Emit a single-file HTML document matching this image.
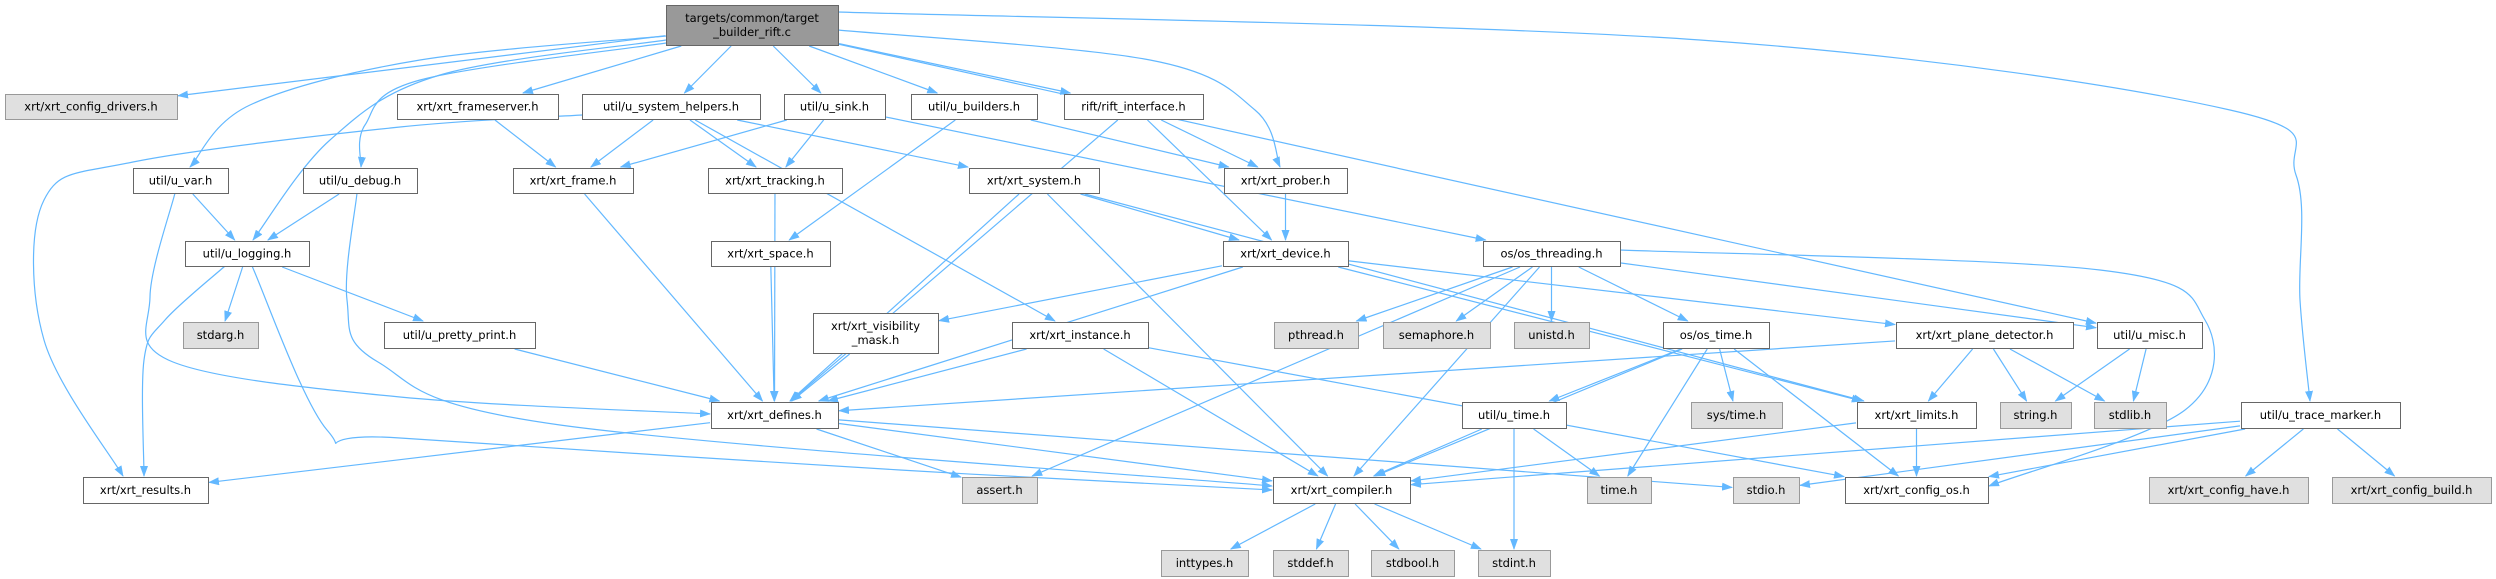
<!DOCTYPE html>
<html><head><meta charset="utf-8"><style>
html,body{margin:0;padding:0;background:#fff;width:2496px;height:579px;overflow:hidden}
svg text{font-family:"DejaVu Sans","Liberation Sans",sans-serif;font-size:11.5px;fill:#000}
</style></head><body>
<svg id="g" width="2496" height="579" xmlns="http://www.w3.org/2000/svg">
<defs><marker id="a" markerWidth="11" markerHeight="8" refX="10" refY="4" orient="auto" markerUnits="userSpaceOnUse"><path d="M0,0 L11,4 L0,8 z" fill="#63b8ff"/></marker></defs>
<g id="E"></g><g id="N"></g>
</svg>
<script>
var N={
root:[666,5,838,45,"targets/common/target|_builder_rift.c",2],
cfgdrv:[5,94,177,119,"xrt/xrt_config_drivers.h",1],
fsrv:[397,94,558,119,"xrt/xrt_frameserver.h",0],
sysh:[582,94,760,119,"util/u_system_helpers.h",0],
sink:[784,94,885,119,"util/u_sink.h",0],
bld:[911,94,1037,119,"util/u_builders.h",0],
rift:[1064,94,1203,119,"rift/rift_interface.h",0],
uvar:[133,168,228,193,"util/u_var.h",0],
udbg:[303,168,417,193,"util/u_debug.h",0],
frame:[513,168,633,193,"xrt/xrt_frame.h",0],
track:[708,168,842,193,"xrt/xrt_tracking.h",0],
xsys:[969,168,1099,193,"xrt/xrt_system.h",0],
prob:[1224,168,1347,193,"xrt/xrt_prober.h",0],
log:[185,241,309,266,"util/u_logging.h",0],
space:[711,241,830,266,"xrt/xrt_space.h",0],
dev:[1223,241,1348,266,"xrt/xrt_device.h",0],
thr:[1483,241,1620,266,"os/os_threading.h",0],
stdarg:[183,322,258,348,"stdarg.h",1],
pp:[384,322,535,348,"util/u_pretty_print.h",0],
vis:[813,313,938,353,"xrt/xrt_visibility|_mask.h",0],
inst:[1012,322,1148,348,"xrt/xrt_instance.h",0],
pth:[1274,322,1358,348,"pthread.h",1],
sem:[1383,322,1490,348,"semaphore.h",1],
uni:[1514,322,1589,348,"unistd.h",1],
ostime:[1663,322,1769,348,"os/os_time.h",0],
plane:[1896,322,2073,348,"xrt/xrt_plane_detector.h",0],
misc:[2097,322,2202,348,"util/u_misc.h",0],
def:[711,402,838,428,"xrt/xrt_defines.h",0],
utime:[1462,402,1566,428,"util/u_time.h",0],
systime:[1691,402,1782,428,"sys/time.h",1],
lim:[1857,402,1976,428,"xrt/xrt_limits.h",0],
str:[2000,402,2071,428,"string.h",1],
stdlib:[2094,402,2166,428,"stdlib.h",1],
trace:[2241,402,2400,428,"util/u_trace_marker.h",0],
res:[83,477,208,503,"xrt/xrt_results.h",0],
assert:[962,477,1037,503,"assert.h",1],
comp:[1273,477,1410,503,"xrt/xrt_compiler.h",0],
timeh:[1587,477,1651,503,"time.h",1],
stdio:[1733,477,1799,503,"stdio.h",1],
cfgos:[1845,477,1988,503,"xrt/xrt_config_os.h",0],
have:[2149,477,2308,503,"xrt/xrt_config_have.h",1],
build:[2332,477,2491,503,"xrt/xrt_config_build.h",1],
inttypes:[1161,550,1248,576,"inttypes.h",1],
stddef:[1273,550,1348,576,"stddef.h",1],
stdbool:[1371,550,1454,576,"stdbool.h",1],
stdint:[1478,550,1550,576,"stdint.h",1]
};
var E=[["root","cfgdrv"],["root","fsrv"],["root","sysh"],["root","sink"],["root","bld"],["root","rift"],["root","misc"],
["sysh","frame"],["sysh","track"],["sysh","xsys"],["sysh","inst"],["fsrv","frame"],
["sink","frame"],["sink","track"],["sink","thr"],["bld","prob"],["bld","space"],
["rift","prob"],["rift","dev"],["rift","def"],["prob","dev"],
["xsys","dev"],["xsys","def"],["xsys","comp"],["xsys","lim"],
["uvar","log"],["udbg","log"],
["log","stdarg"],["log","pp"],
["frame","def"],["track","def"],["space","def"],
["dev","vis"],["dev","def"],["dev","plane"],["dev","lim"],
["thr","pth"],["thr","sem"],["thr","uni"],["thr","ostime"],["thr","misc"],["thr","assert"],["thr","comp"],
["vis","def"],["inst","def"],["inst","comp"],["inst","cfgos"],["pp","def"],
["def","res"],["def","assert"],["def","comp"],["def","stdio"],
["ostime","systime"],["ostime","timeh"],["ostime","cfgos"],["ostime","comp"],["ostime","utime"],
["plane","def"],["plane","lim"],["plane","str"],["plane","stdlib"],
["misc","str"],["misc","stdlib"],
["utime","comp"],["utime","timeh"],["utime","stdint"],
["lim","comp"],["lim","cfgos"],
["trace","comp"],["trace","stdio"],["trace","cfgos"],["trace","have"],["trace","build"],
["comp","inttypes"],["comp","stddef"],["comp","stdbool"],["comp","stdint"]];
var P=[
[[666,36],[420,60],[250,105],[190,167]],
[[666,40],[440,75],[330,140],[253,240]],
[[666,43],[420,80],[365,125],[361,167]],
[[582,115],[400,127],[133,162],[44,200],[44,340],[123,476]],
[[225,266],[165,320],[144,360],[144,476]],
[[175,193],[150,297],[173,362],[400,397],[710,414]],
[[252,266],[327,430],[400,438],[900,470],[1272,490]],
[[357,193],[347,300],[378,362],[560,425],[1272,486]],
[[838,12],[1700,40],[2230,110],[2296,175],[2300,300],[2310,401]],
[[838,30],[1150,60],[1255,110],[1280,167]],
[[1620,250],[2100,270],[2205,320],[2185,410],[1989,486]]
];
var ns="http://www.w3.org/2000/svg";
function el(t,a){var e=document.createElementNS(ns,t);for(var k in a)e.setAttribute(k,a[k]);return e;}
function clip(b,cx,cy,dx,dy){var hw=(b[2]-b[0])/2+1,hh=(b[3]-b[1])/2+1;var t=Math.min(dx?hw/Math.abs(dx):1e9,dy?hh/Math.abs(dy):1e9);return [cx+dx*t,cy+dy*t];}
var eg=document.getElementById("E"),ng=document.getElementById("N");
E.forEach(function(e){var a=N[e[0]],b=N[e[1]];
var ax=(a[0]+a[2])/2,ay=(a[1]+a[3])/2,bx=(b[0]+b[2])/2,by=(b[1]+b[3])/2;
var dx=bx-ax,dy=by-ay;var p=clip(a,ax,ay,dx,dy),q=clip(b,bx,by,-dx,-dy);
eg.appendChild(el("line",{x1:p[0],y1:p[1],x2:q[0],y2:q[1],stroke:"#63b8ff","stroke-width":1.2,"marker-end":"url(#a)"}));});
P.forEach(function(pts){var d="M"+pts[0][0]+","+pts[0][1];
for(var i=0;i<pts.length-1;i++){var p0=pts[Math.max(0,i-1)],p1=pts[i],p2=pts[i+1],p3=pts[Math.min(pts.length-1,i+2)];
var c1=[p1[0]+(p2[0]-p0[0])/6,p1[1]+(p2[1]-p0[1])/6],c2=[p2[0]-(p3[0]-p1[0])/6,p2[1]-(p3[1]-p1[1])/6];
d+=" C"+c1[0]+","+c1[1]+" "+c2[0]+","+c2[1]+" "+p2[0]+","+p2[1];}
eg.appendChild(el("path",{d:d,fill:"none",stroke:"#63b8ff","stroke-width":1.2,"marker-end":"url(#a)"}));});
for(var k in N){var n=N[k];var fill=n[5]==2?"#999999":(n[5]==1?"#e0e0e0":"#ffffff");var st=n[5]==1?"#999999":"#666666";
ng.appendChild(el("rect",{x:n[0]+.5,y:n[1]+.5,width:n[2]-n[0],height:n[3]-n[1],fill:fill,stroke:st,"stroke-width":1}));
var lines=n[4].split("|");var cx=(n[0]+n[2])/2,cy=(n[1]+n[3])/2;
lines.forEach(function(s,i){var t=el("text",{x:cx,y:cy+4+(i-(lines.length-1)/2)*14,"text-anchor":"middle"});t.textContent=s;ng.appendChild(t);});}
</script>
</body></html>
